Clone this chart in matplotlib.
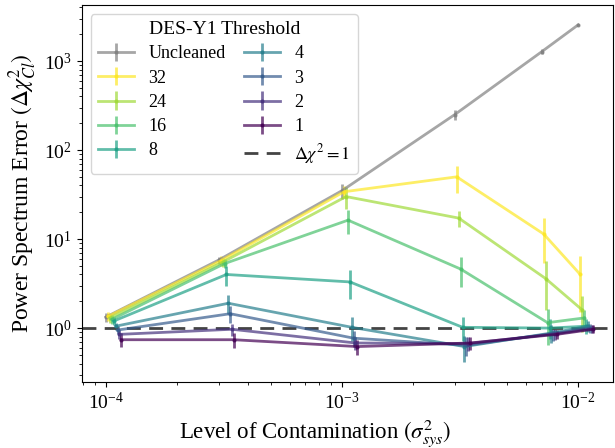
import numpy as np
import matplotlib
matplotlib.use("Agg")
import matplotlib.pyplot as plt

plt.rcParams['font.family'] = ['Liberation Serif', 'DejaVu Serif']
plt.rcParams['mathtext.fontset'] = 'stix'
plt.rcParams['axes.unicode_minus'] = False

# contamination levels
x_levels = [1e-4, 3e-4, 1e-3, 3e-3, 7e-3, 1e-2]

# series labels (legend order)
labels = ['Uncleaned', '32', '24', '16', '8', '4', '3', '2', '1']

# delta chi^2 values
y_uncleaned = [1.33, 5.8, 35, 250, 1270, 2550]
y_32 = [1.35, 5.7, 34, 50, 11.4, 4.0]
y_24 = [1.3, 5.5, 30, 17.2, 3.6, 1.6]
y_16 = [1.25, 5.3, 16.3, 4.6, 1.15, 1.3]
y_8 = [1.2, 4.0, 3.3, 1.02, 1.0, 1.05]
y_4 = [1.05, 1.9, 1.02, 0.62, 0.88, 1.05]
y_3 = [0.95, 1.45, 0.77, 0.64, 0.87, 1.0]
y_2 = [0.85, 0.97, 0.68, 0.67, 0.86, 0.98]
y_1 = [0.74, 0.74, 0.62, 0.68, 0.85, 0.97]

# error bars
e_uncleaned = [0.15, 0.5, 7, 30, 80, 60]
e_32 = [0.15, 0.7, 5, 17, 6, 2.5]
e_24 = [0.15, 0.6, 8, 3.5, 2, 0.7]
e_16 = [0.15, 0.6, 5, 1.7, 0.5, 0.3]
e_8 = [0.12, 1.0, 1.2, 0.3, 0.25, 0.2]
e_4 = [0.1, 0.45, 0.3, 0.2, 0.2, 0.15]
e_3 = [0.1, 0.3, 0.15, 0.15, 0.15, 0.12]
e_2 = [0.1, 0.15, 0.12, 0.12, 0.12, 0.1]
e_1 = [0.13, 0.15, 0.12, 0.12, 0.1, 0.1]

ys = [y_uncleaned, y_32, y_24, y_16, y_8, y_4, y_3, y_2, y_1]
es = [e_uncleaned, e_32, e_24, e_16, e_8, e_4, e_3, e_2, e_1]

colors = ['gray'] + [plt.cm.viridis(v) for v in np.linspace(1, 0, 8)]

fig = plt.figure(figsize=(6.15, 4.48), dpi=100)
ax = fig.add_axes([0.133, 0.147, 0.864, 0.842])

x = np.array(x_levels)
handles = []
for i, (lab, y, e, c) in enumerate(zip(labels, ys, es, colors)):
    xi = x * (1 + 0.02 * i)  # small offset so bars don't overlap
    h = ax.errorbar(xi, y, yerr=e, color=c, alpha=0.7, lw=2, elinewidth=2,
                    marker='.', ms=4, label=lab)
    handles.append(h)

hl = ax.axhline(1, color='#444444', ls='--', lw=2, dashes=(5, 3),
                label=r'$\Delta\chi^2 = 1$')
handles.append(hl)

ax.set_xscale('log')
ax.set_yscale('log')
ax.set_xlim(10**-4.102, 10**-1.852)
ax.set_ylim(0.247, 10**3.63)

ax.set_xlabel(r'Level of Contamination $(\sigma^2_{sys})$', fontsize=16.5)
ax.xaxis.set_label_coords(0.44, -0.092)
ax.set_ylabel(r'Power Spectrum Error $(\Delta\chi^2_{Cl})$', fontsize=17)
ax.tick_params(labelsize=14)

leg = ax.legend(handles=handles, ncol=2, loc='upper left',
                title='DES-Y1 Threshold', fontsize=13, title_fontsize=14,
                labelspacing=0.4, columnspacing=1.0)
leg.get_frame().set_edgecolor('#cccccc')

fig.savefig('out.png', dpi=100)
